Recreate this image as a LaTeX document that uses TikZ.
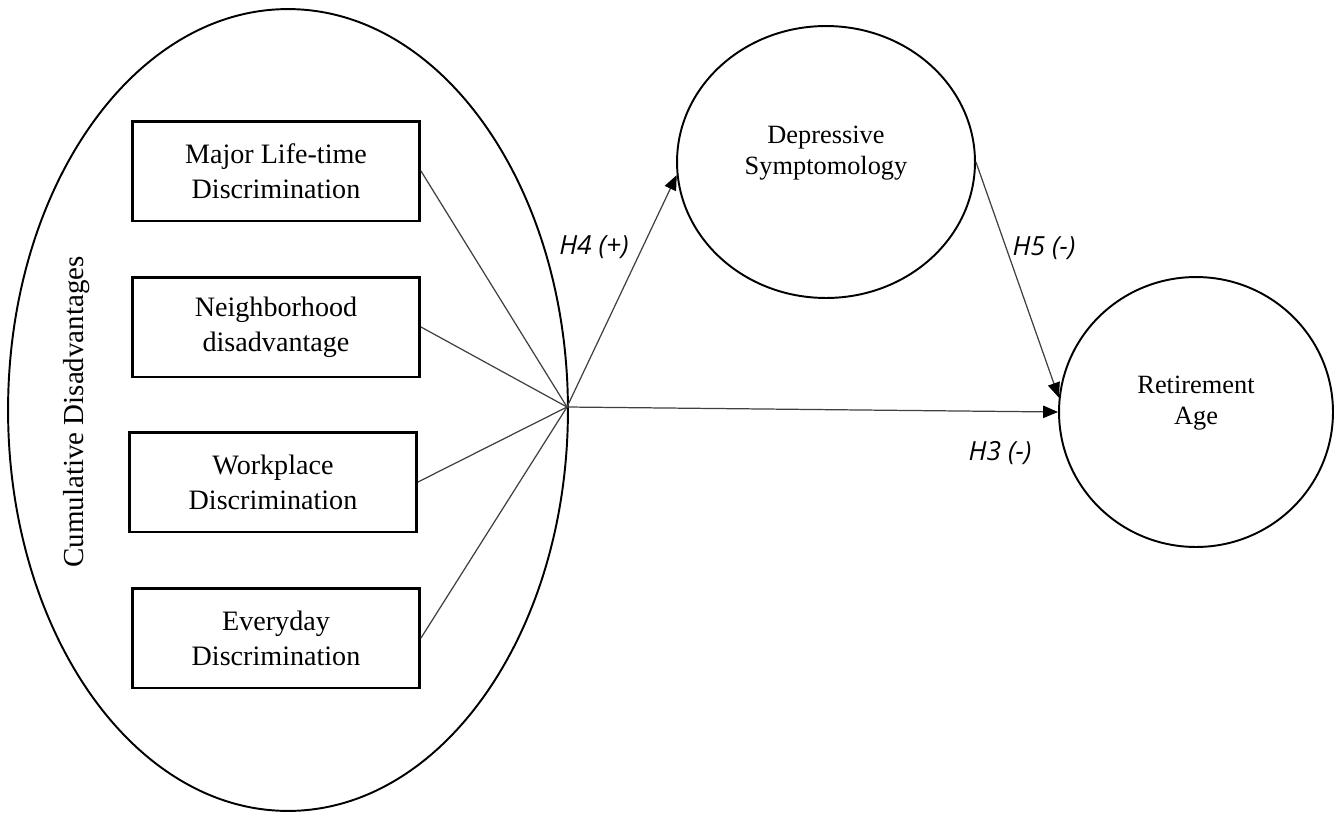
\documentclass[tikz,border=0pt]{standalone}
\usepackage{fontspec}
\setmainfont{Liberation Serif}
\newfontfamily\hypfont{Open Sans}
\usetikzlibrary{arrows.meta,shapes.geometric}

\begin{document}
\begin{tikzpicture}[x=0.02cm, y=-0.02cm,
  latent/.style={draw, ellipse, line width=1.1pt, inner sep=0pt, align=center, font=\fontsize{15}{17.6}\selectfont},
  indic/.style={draw, line width=1.7pt, minimum width=5.74cm, minimum height=2.0cm, align=center, font=\fontsize{16}{19.8}\selectfont},
  link/.style={black!75, line width=0.7pt},
  effect/.style={black!75, line width=0.7pt, -{Triangle[length=8.5pt, width=7pt, black]}},
  hyp/.style={font=\hypfont\itshape\fontsize{15}{17}\selectfont}
]
\useasboundingbox (0,0) rectangle (1342,815);

% latent constructs
\node[latent, minimum width=11.2cm, minimum height=16.04cm] (cd) at (288,410) {};
\node[latent, text depth=13pt, minimum width=5.96cm, minimum height=5.44cm] (dep) at (826,162) {Depressive\\Symptomology};
\node[latent, text depth=13pt, minimum width=5.48cm, minimum height=5.4cm] (ret) at (1196,412) {Retirement\\Age};
\node[rotate=90, font=\fontsize{16.5}{19}\selectfont] (cdlab) at (77,412) {Cumulative Disadvantages};

\coordinate (hub) at (567,407);

% indicators
\foreach \n/\x/\y/\t in {mlt/276/171/{Major Life-time\\Discrimination}, nbh/276/327/{Neighborhood\\disadvantage}, wpd/273/482/{Workplace\\Discrimination}, evd/276/638/{Everyday\\Discrimination}} {
  \node[indic] (\n) at (\x,\y) {\t};
  \draw[link] (\n.east) -- (hub);
}

% hypotheses
\draw[effect] (hub) -- (dep.185);
\draw[effect] (dep.east) -- (ret.174);
\draw[effect] (hub) -- (ret.west);
\node[hyp] (h4) at (594,247) {H4 (+)};
\node[hyp] (h5) at (1044,248) {H5 (-)};
\node[hyp] (h3) at (1000,453) {H3 (-)};
\end{tikzpicture}
\end{document}
